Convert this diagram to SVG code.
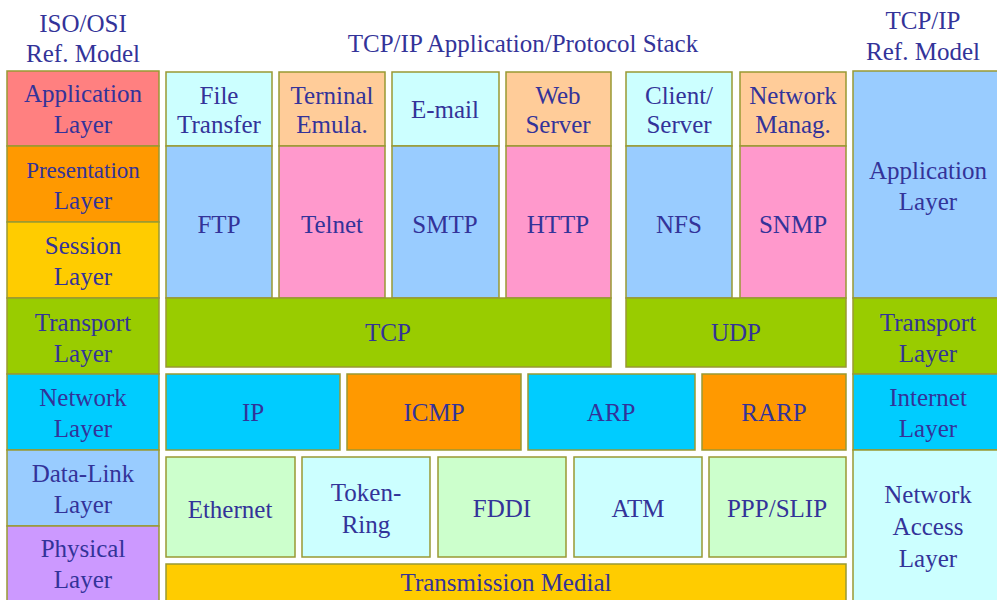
<svg xmlns="http://www.w3.org/2000/svg" width="997" height="600" viewBox="0 0 997 600">
<rect x="0" y="0" width="997" height="600" fill="#fff"/>
<g id="diagram" fill="#333399" text-anchor="middle" font-size="25" font-family="Liberation Serif" stroke="#999933" stroke-width="1.5">
<g id="titles" stroke="none">
<text x="83" y="32">ISO/OSI</text><text x="83" y="62">Ref. Model</text>
<text x="523" y="52">TCP/IP Application/Protocol Stack</text>
<text x="923" y="29">TCP/IP</text><text x="923" y="60">Ref. Model</text>
</g>
<g id="osi">
<g id="osi-app"><rect fill="#FF8080" x="7" y="71" width="152" height="75"/><text stroke="none" x="83" y="102">Application</text><text stroke="none" x="83" y="133">Layer</text></g>
<g id="osi-pres"><rect fill="#FF9900" x="7" y="146" width="152" height="76"/><text stroke="none" font-size="23" x="83" y="178">Presentation</text><text stroke="none" x="83" y="209">Layer</text></g>
<g id="osi-sess"><rect fill="#FFCC00" x="7" y="222" width="152" height="76"/><text stroke="none" x="83" y="254">Session</text><text stroke="none" x="83" y="285">Layer</text></g>
<g id="osi-trans"><rect fill="#99CC00" x="7" y="298" width="152" height="76"/><text stroke="none" x="83" y="331">Transport</text><text stroke="none" x="83" y="362">Layer</text></g>
<g id="osi-net"><rect fill="#00CCFF" x="7" y="374" width="152" height="76"/><text stroke="none" x="83" y="406">Network</text><text stroke="none" x="83" y="437">Layer</text></g>
<g id="osi-dl"><rect fill="#99CCFF" x="7" y="450" width="152" height="76"/><text stroke="none" x="83" y="482">Data-Link</text><text stroke="none" x="83" y="513">Layer</text></g>
<g id="osi-phy"><rect fill="#CC99FF" x="7" y="526" width="152" height="80"/><text stroke="none" x="83" y="557">Physical</text><text stroke="none" x="83" y="588">Layer</text></g>
</g>
<g id="apps">
<g id="ft"><rect fill="#CCFFFF" x="166" y="72" width="106" height="74"/><text stroke="none" x="219" y="104">File</text><text stroke="none" x="219" y="133">Transfer</text></g>
<g id="te"><rect fill="#FFCC99" x="279" y="72" width="106" height="74"/><text stroke="none" x="332" y="104">Terninal</text><text stroke="none" x="332" y="133">Emula.</text></g>
<g id="em"><rect fill="#CCFFFF" x="392" y="72" width="107" height="74"/><text stroke="none" x="445" y="118">E-mail</text></g>
<g id="ws"><rect fill="#FFCC99" x="506" y="72" width="105" height="74"/><text stroke="none" x="558" y="104">Web</text><text stroke="none" x="558" y="133">Server</text></g>
<g id="cs"><rect fill="#CCFFFF" x="626" y="72" width="106" height="74"/><text stroke="none" x="679" y="104">Client/</text><text stroke="none" x="679" y="133">Server</text></g>
<g id="nm"><rect fill="#FFCC99" x="740" y="72" width="106" height="74"/><text stroke="none" x="793" y="104">Network</text><text stroke="none" x="793" y="133">Manag.</text></g>
<g id="ftp"><rect fill="#99CCFF" x="166" y="146" width="106" height="152"/><text stroke="none" x="219" y="233">FTP</text></g>
<g id="telnet"><rect fill="#FF99CC" x="279" y="146" width="106" height="152"/><text stroke="none" x="332" y="233">Telnet</text></g>
<g id="smtp"><rect fill="#99CCFF" x="392" y="146" width="107" height="152"/><text stroke="none" x="445" y="233">SMTP</text></g>
<g id="http"><rect fill="#FF99CC" x="506" y="146" width="105" height="152"/><text stroke="none" x="558" y="233">HTTP</text></g>
<g id="nfs"><rect fill="#99CCFF" x="626" y="146" width="106" height="152"/><text stroke="none" x="679" y="233">NFS</text></g>
<g id="snmp"><rect fill="#FF99CC" x="740" y="146" width="106" height="152"/><text stroke="none" x="793" y="233">SNMP</text></g>
<g id="tcp"><rect fill="#99CC00" x="166" y="298" width="445" height="69"/><text stroke="none" x="388" y="341">TCP</text></g>
<g id="udp"><rect fill="#99CC00" x="626" y="298" width="220" height="69"/><text stroke="none" x="736" y="341">UDP</text></g>
<g id="ip"><rect fill="#00CCFF" x="166" y="374" width="174" height="76"/><text stroke="none" x="253" y="421">IP</text></g>
<g id="icmp"><rect fill="#FF9900" x="347" y="374" width="174" height="76"/><text stroke="none" x="434" y="421">ICMP</text></g>
<g id="arp"><rect fill="#00CCFF" x="528" y="374" width="167" height="76"/><text stroke="none" x="611" y="421">ARP</text></g>
<g id="rarp"><rect fill="#FF9900" x="702" y="374" width="144" height="76"/><text stroke="none" x="774" y="421">RARP</text></g>
<g id="eth"><rect fill="#CCFFCC" x="166" y="457" width="129" height="100"/><text stroke="none" x="230" y="518">Ethernet</text></g>
<g id="tr"><rect fill="#CCFFFF" x="302" y="457" width="128" height="100"/><text stroke="none" x="366" y="501">Token-</text><text stroke="none" x="366" y="533">Ring</text></g>
<g id="fddi"><rect fill="#CCFFCC" x="438" y="457" width="128" height="100"/><text stroke="none" x="502" y="517">FDDI</text></g>
<g id="atm"><rect fill="#CCFFFF" x="574" y="457" width="128" height="100"/><text stroke="none" x="638" y="517">ATM</text></g>
<g id="ppp"><rect fill="#CCFFCC" x="709" y="457" width="137" height="100"/><text stroke="none" x="777" y="517">PPP/SLIP</text></g>
<g id="tm"><rect fill="#FFCC00" x="166" y="564" width="680" height="42"/><text stroke="none" x="506" y="591">Transmission Medial</text></g>
</g>
<g id="tcpip">
<g id="r-app"><rect fill="#99CCFF" x="853" y="71" width="150" height="227"/><text stroke="none" x="928" y="179">Application</text><text stroke="none" x="928" y="210">Layer</text></g>
<g id="r-trans"><rect fill="#99CC00" x="853" y="298" width="150" height="76"/><text stroke="none" x="928" y="331">Transport</text><text stroke="none" x="928" y="362">Layer</text></g>
<g id="r-int"><rect fill="#00CCFF" x="853" y="374" width="150" height="76"/><text stroke="none" x="928" y="406">Internet</text><text stroke="none" x="928" y="437">Layer</text></g>
<g id="r-na"><rect fill="#CCFFFF" x="853" y="450" width="150" height="156"/><text stroke="none" x="928" y="503">Network</text><text stroke="none" x="928" y="535">Access</text><text stroke="none" x="928" y="567">Layer</text></g>
</g>
<g id="connectors"/>
</g>
</svg>
